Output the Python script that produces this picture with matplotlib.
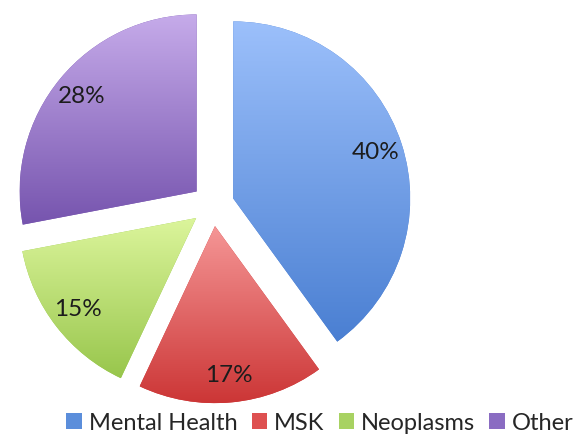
import numpy as np
import matplotlib.pyplot as plt
from matplotlib.patches import Patch
from matplotlib.colors import to_rgb

labels = ['Mental Health', 'MSK', 'Neoplasms', 'Other']
shares = [40, 17, 15, 28]
top_colors = ['#9cc0fb', '#f59696', '#dcf59c', '#c6abea']
bottom_colors = ['#4a7fd2', '#cc3636', '#98c64c', '#7654ae']
legend_colors = ['#5b8edb', '#de5050', '#a8d262', '#8a6cc2']

plt.rcParams['font.family'] = ['Lato', 'DejaVu Sans']

fig = plt.figure(figsize=(5.75, 4.36), dpi=100)
ax = fig.add_axes([0, 0, 1, 1])

wedges, texts, pcts = ax.pie(shares, startangle=90, counterclock=False,
                             explode=[0.12] * len(shares),
                             autopct='%.0f%%', pctdistance=0.845,
                             wedgeprops=dict(linewidth=0, edgecolor='none'),
                             textprops=dict(fontsize=17.5, color='#1c1c1c'))

# vertical gradient (light top, dark bottom) clipped to each slice
for w, top, bot in zip(wedges, top_colors, bottom_colors):
    w.set_facecolor(bot)
    ext = w.get_path().get_extents()
    t = np.linspace(0, 1, 256)[:, None, None]
    grad = (1 - t) * np.array(to_rgb(bot)) + t * np.array(to_rgb(top))
    grad = np.repeat(grad, 2, axis=1)
    im = ax.imshow(grad, origin='lower', aspect='auto', interpolation='bilinear',
                   extent=(ext.x0, ext.x1, ext.y0, ext.y1), zorder=2)
    im.set_clip_path(w)

for p in pcts:
    p.set_zorder(5)

ax.set_aspect('auto')
ax.set_xlim(-213 / 177, 362 / 177)
ax.set_ylim(-231 / 177, 205 / 177)
ax.axis('off')

handles = [Patch(facecolor=c, edgecolor='none') for c in legend_colors]
fig.legend(handles, labels, loc='center', bbox_to_anchor=(320 / 575, 13 / 436),
           ncol=4, frameon=False, fontsize=17, handlelength=0.65, handleheight=0.65,
           handletextpad=0.3, columnspacing=0.6, labelcolor='#262626')

fig.savefig('out.png', dpi=100)
